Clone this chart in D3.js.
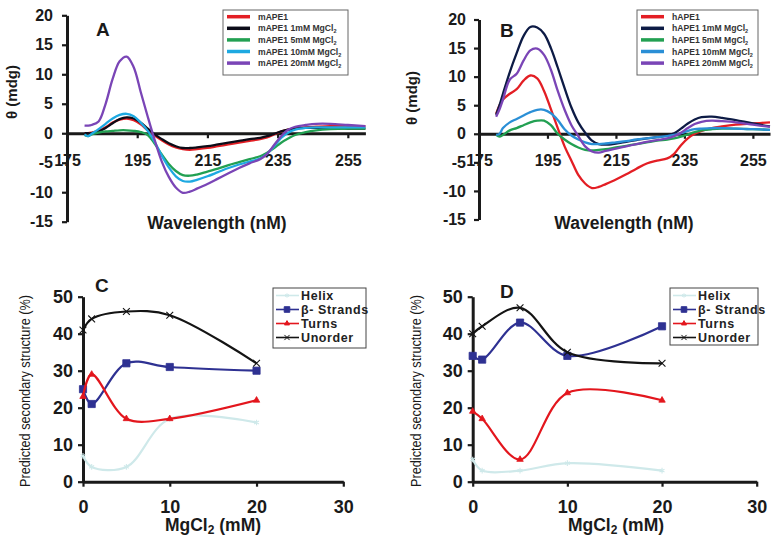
<!DOCTYPE html>
<html><head><meta charset="utf-8">
<script src="https://cdn.jsdelivr.net/npm/d3@7"></script>
<style>
body{margin:0;background:#fff;}
svg{display:block;font-family:"Liberation Sans",Arial,sans-serif;}
</style>
</head><body>
<svg id="chart" width="777" height="545"></svg>
<script>
// ---------- DATA ----------
const wavelengths = [180,181,182,184,186,188,190,192,194,196,198,200,202,204,206,208,210,212,215,218,221,224,227,230,232,234,236,238,240,243,246,250,255,260];

// Panel A (mAPE1)
const aRed    = [0,0,0.1,0.4,1.0,1.8,2.3,2.5,2.2,1.5,0.5,-0.4,-1.2,-1.9,-2.4,-2.7,-2.8,-2.7,-2.5,-2.2,-1.9,-1.6,-1.3,-1.0,-0.7,-0.2,0.3,0.6,0.8,1.0,1.1,1.2,1.2,1.2];
const aBlack  = [0,0,0,0.3,0.9,1.7,2.4,2.7,2.5,1.8,0.8,-0.2,-1.0,-1.7,-2.2,-2.5,-2.5,-2.4,-2.2,-1.9,-1.6,-1.3,-1.0,-0.8,-0.5,-0.1,0.3,0.6,0.8,0.9,0.9,0.9,0.8,0.8];
const aGreen  = [-0.3,-0.5,-0.2,0.1,0.3,0.4,0.5,0.5,0.4,0.2,-0.3,-1.8,-3.6,-5.2,-6.4,-7.1,-7.2,-7.0,-6.5,-6.0,-5.4,-4.9,-4.4,-3.9,-3.3,-2.5,-1.6,-0.9,-0.3,0.2,0.5,0.7,0.8,0.8];
const aBlue   = [-0.2,-0.5,-0.1,0.7,1.6,2.5,3.1,3.3,2.9,1.8,0.4,-1.5,-3.8,-5.8,-7.3,-8.1,-8.2,-7.9,-7.3,-6.6,-5.9,-5.3,-4.8,-4.3,-3.5,-2.2,-0.8,0.1,0.6,0.9,1.0,1.0,1.0,1.0];
const aPurple = [1.3,1.3,1.4,2.0,5.0,9.2,12.2,13.0,11.2,7.0,2.8,-1.2,-4.8,-7.4,-9.2,-10.1,-9.9,-9.4,-8.6,-7.7,-6.8,-5.9,-5.1,-4.4,-3.5,-2.0,-0.5,0.6,1.1,1.4,1.6,1.6,1.4,1.2];

// Panel B (hAPE1)
const bRed    = [3.5,5.0,6.0,7.0,7.8,9.3,10.2,9.7,7.5,4.3,1.0,-2.2,-4.7,-7.2,-8.7,-9.5,-9.3,-8.8,-8.0,-7.1,-6.1,-5.2,-4.7,-4.3,-3.5,-2.0,-0.8,0.0,0.5,1.0,1.3,1.6,1.8,2.0];
const bNavy   = [3.3,5.0,7.0,10.8,14.1,17.1,18.7,18.6,17.5,15.0,11.6,8.0,4.6,2.0,0.2,-1.2,-1.8,-1.9,-1.7,-1.4,-1.1,-0.8,-0.6,-0.3,0.1,0.9,1.8,2.5,2.9,3.0,2.8,2.4,1.8,1.3];
const bGreen  = [-0.2,-0.5,-0.2,0.6,1.0,1.5,2.0,2.3,2.3,1.5,0.0,-1.0,-1.8,-2.4,-2.8,-2.9,-2.8,-2.7,-2.4,-2.1,-1.8,-1.5,-1.2,-1.0,-0.8,-0.5,-0.1,0.3,0.6,0.8,0.9,0.9,0.8,0.7];
const bBlue   = [-0.2,0.0,1.0,2.0,2.6,3.2,3.8,4.2,4.2,3.6,2.4,0.8,-0.3,-1.0,-1.5,-1.8,-1.8,-1.7,-1.5,-1.3,-1.0,-0.8,-0.6,-0.4,-0.2,0.1,0.5,0.8,0.9,1.0,1.0,0.9,0.8,0.7];
const bPurple = [3.0,4.3,6.0,9.5,10.5,12.8,14.6,14.9,13.8,11.2,7.5,4.2,1.5,-0.4,-2.2,-3.1,-3.3,-3.0,-2.6,-2.2,-1.8,-1.4,-1.1,-0.8,-0.4,0.2,1.0,1.7,2.1,2.3,2.2,2.0,1.6,1.2];

const cdYTicks = [-15,-10,-5,0,5,10,15,20];
const cdXTicks = [175,195,215,235,255];
const legendA = ["mAPE1","mAPE1 1mM MgCl","mAPE1 5mM MgCl","mAPE1 10mM MgCl","mAPE1 20mM MgCl"];
const legendB = ["hAPE1","hAPE1 1mM MgCl","hAPE1 5mM MgCl","hAPE1 10mM MgCl","hAPE1 20mM MgCl"];

// Panels C, D (secondary structure)
const mgcl = [0,1,5,10,20];
const cHelix   = [7,4,4,17,16];
const cStrands = [25,21,32,31,30];
const cTurns   = [23,29,17,17,22];
const cUnorder = [41,44,46,45,32];
const dHelix   = [6,3,3,5,3];
const dStrands = [34,33,43,34,42];
const dTurns   = [19,17,6,24,22];
const dUnorder = [40,42,47,35,32];
const ssYTicks = [0,10,20,30,40,50];
const ssXTicks = [0,10,20,30];
const ssNames = ["Helix","β- Strands","Turns","Unorder"];

// ---------- DRAW ----------
const svg = d3.select("#chart");
svg.append("rect").attr("width",777).attr("height",545).attr("fill","#fff");
const ink = "#1a1a1a";

function styleAxis(ax, fs) {
  ax.select(".domain").attr("stroke", ink).attr("stroke-width", 3);
  ax.selectAll(".tick line").attr("stroke", ink).attr("stroke-width", 2.2);
  ax.selectAll(".tick text").attr("fill", ink).attr("font-size", fs).attr("font-weight", "bold")
    .attr("font-family", "Liberation Sans, Arial, sans-serif");
}

function cdPanel(cfg) {
  const x = d3.scaleLinear().domain([175,260]).range(cfg.xr);
  const y = d3.scaleLinear().domain([-15,20]).range(cfg.yr);
  const g = svg.append("g");
  const yAx = g.append("g").attr("transform", `translate(${cfg.xr[0]},0)`)
    .call(d3.axisLeft(y).tickValues(cdYTicks).tickSize(5).tickSizeOuter(0).tickPadding(cfg.ypad).tickFormat(d => String(d)));
  styleAxis(yAx, "16px");
  const xAx = g.append("g").attr("transform", `translate(0,${y(0)})`)
    .call(d3.axisBottom(x).tickValues(cdXTicks).tickSize(5).tickSizeOuter(0).tickPadding(16).tickFormat(d => String(d)));
  styleAxis(xAx, "16px");

  const line = d3.line().x((d,i) => x(wavelengths[i])).y(d => y(d)).curve(d3.curveCatmullRom.alpha(0.5));
  cfg.series.forEach(s => {
    g.append("path").datum(s.v).attr("d", line).attr("fill","none")
      .attr("stroke", s.c).attr("stroke-width", 2.3).attr("stroke-linejoin","round");
  });

  g.append("text").attr("x", cfg.letter[0]).attr("y", cfg.letter[1]).text(cfg.name)
    .attr("font-size","19px").attr("font-weight","bold").attr("fill", ink);
  g.append("text").attr("transform", `translate(${cfg.ylab[0]},${cfg.ylab[1]}) rotate(-90)`)
    .attr("text-anchor","middle").attr("font-size","15px").attr("font-weight","bold").attr("fill", ink)
    .text("θ (mdg)");
  g.append("text").attr("x", cfg.xlab[0]).attr("y", cfg.xlab[1]).attr("text-anchor","middle")
    .attr("font-size","17.5px").attr("font-weight","bold").attr("fill", ink).text("Wavelength (nM)");

  const lb = cfg.legend;
  g.append("rect").attr("x", lb.x).attr("y", lb.y).attr("width", lb.w).attr("height", lb.h)
    .attr("fill","#fff").attr("stroke","#666").attr("stroke-width",1);
  cfg.series.forEach((s,i) => {
    const ry = lb.y + 6.7 + i * 11.6;
    g.append("line").attr("x1", lb.x + 4).attr("x2", lb.x + 27).attr("y1", ry).attr("y2", ry)
      .attr("stroke", s.c).attr("stroke-width", 3.5);
    const t = g.append("text").attr("x", lb.x + lb.tx).attr("y", ry + 3).attr("font-size","8.6px")
      .attr("font-weight","bold").attr("fill","#333");
    t.append("tspan").text(cfg.labels[i]);
    if (i > 0) t.append("tspan").attr("dy", 2).attr("font-size","5.5px").text("2");
  });
}

cdPanel({
  name: "A", xr: [67, 365.4], yr: [221.7, 15.3], ypad: 9,
  letter: [96, 36], ylab: [17, 92], xlab: [217, 229],
  legend: {x: 223, y: 10, w: 125, h: 65, tx: 35},
  labels: legendA,
  series: [
    {v: aRed, c: "#e31e24"}, {v: aBlack, c: "#0c0c18"}, {v: aGreen, c: "#22a052"},
    {v: aBlue, c: "#1ea9e1"}, {v: aPurple, c: "#7a45b6"}
  ]
});
cdPanel({
  name: "B", xr: [479, 770], yr: [219.5, 19.5], ypad: 8,
  letter: [500, 37], ylab: [417, 98], xlab: [624, 229],
  legend: {x: 637, y: 10, w: 121, h: 65, tx: 35},
  labels: legendB,
  series: [
    {v: bRed, c: "#e31e24"}, {v: bNavy, c: "#0d1b45"}, {v: bGreen, c: "#22a052"},
    {v: bBlue, c: "#2a8fd6"}, {v: bPurple, c: "#7a45b6"}
  ]
});

function ssPanel(cfg) {
  const x = d3.scaleLinear().domain([0,30]).range(cfg.xr);
  const y = d3.scaleLinear().domain([0,50]).range([481.7, 296.7]);
  const g = svg.append("g");
  const yAx = g.append("g").attr("transform", `translate(${cfg.xr[0]},0)`)
    .call(d3.axisLeft(y).tickValues(ssYTicks).tickSize(5).tickSizeOuter(0).tickPadding(5).tickFormat(d => String(d)));
  styleAxis(yAx, "18px");
  const xAx = g.append("g").attr("transform", `translate(0,${y(0)})`)
    .call(d3.axisBottom(x).tickValues(ssXTicks).tickSize(5).tickSizeOuter(0).tickPadding(14).tickFormat(d => String(d)));
  styleAxis(xAx, "18px");

  const line = d3.line().x((d,i) => x(mgcl[i])).y(d => y(d)).curve(d3.curveCatmullRom.alpha(0.5));
  const styles = [
    {c: "#cfe9ea", sym: d3.symbolAsterisk, size: 22, fill: false},
    {c: "#2e3192", sym: d3.symbolSquare, size: 52, fill: true},
    {c: "#e3161d", sym: d3.symbolTriangle, size: 18, fill: true},
    {c: "#141414", sym: d3.symbolX, size: 32, fill: false}
  ];
  cfg.series.forEach((vals, k) => {
    const st = styles[k];
    g.append("path").datum(vals).attr("d", line).attr("fill","none")
      .attr("stroke", st.c).attr("stroke-width", 2.2);
    g.selectAll(null).data(vals).join("path")
      .attr("transform", (d,i) => `translate(${x(mgcl[i])},${y(d)})`)
      .attr("d", d3.symbol(st.sym, st.size))
      .attr("fill", st.fill ? st.c : "none").attr("stroke", st.c).attr("stroke-width", st.fill ? 0.8 : 1.1);
  });

  g.append("text").attr("x", cfg.letter[0]).attr("y", cfg.letter[1]).text(cfg.name)
    .attr("font-size","19px").attr("font-weight","bold").attr("fill", ink);
  g.append("text").attr("transform", `translate(${cfg.ylab},391) rotate(-90)`)
    .attr("text-anchor","middle").attr("font-size","14px").attr("fill", ink)
    .attr("textLength", 192).attr("lengthAdjust","spacingAndGlyphs")
    .text("Predicted secondary structure (%)");
  const xl = g.append("text").attr("x", cfg.xlab).attr("y", 531).attr("text-anchor","middle")
    .attr("font-size","17.5px").attr("font-weight","bold").attr("fill", ink);
  xl.append("tspan").text("MgCl");
  xl.append("tspan").attr("font-size","12px").attr("dy", 3).text("2");
  xl.append("tspan").attr("dy", -3).text(" (mM)");

  const lb = cfg.legend;
  g.append("rect").attr("x", lb.x).attr("y", lb.y).attr("width", lb.w).attr("height", lb.h)
    .attr("fill","#fff").attr("stroke","#444").attr("stroke-width",1);
  ssNames.forEach((nm, k) => {
    const st = styles[k];
    const ry = lb.y + 7.5 + k * 14;
    g.append("line").attr("x1", lb.x + 3).attr("x2", lb.x + 26).attr("y1", ry).attr("y2", ry)
      .attr("stroke", st.c).attr("stroke-width", 1.6);
    g.append("path").attr("transform", `translate(${lb.x + 14},${ry})`)
      .attr("d", d3.symbol(st.sym, st.size * 0.6))
      .attr("fill", st.fill ? st.c : "none").attr("stroke", st.c).attr("stroke-width", 1);
    g.append("text").attr("x", lb.x + 28).attr("y", ry + 4.5).attr("font-size","12.5px")
      .attr("font-weight","bold").attr("letter-spacing","0.6px").attr("fill","#222").text(nm);
  });
}

ssPanel({
  name: "C", xr: [83, 343.3], letter: [95, 292], ylab: 30, xlab: 213,
  legend: {x: 273, y: 288, w: 93, h: 60},
  series: [cHelix, cStrands, cTurns, cUnorder]
});
ssPanel({
  name: "D", xr: [472.7, 756.7], letter: [500, 298], ylab: 421, xlab: 616,
  legend: {x: 670, y: 288, w: 88, h: 57},
  series: [dHelix, dStrands, dTurns, dUnorder]
});
</script>
</body></html>
